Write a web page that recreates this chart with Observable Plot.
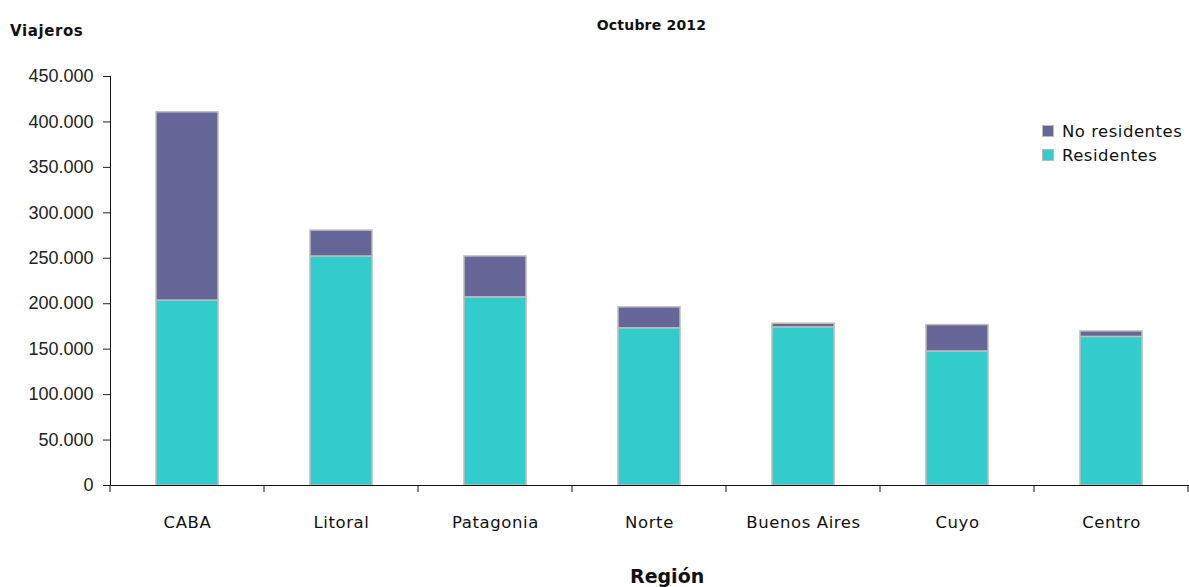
<!DOCTYPE html>
<html>
<head>
<meta charset="utf-8">
<script src="https://cdn.jsdelivr.net/npm/d3@7"></script>
<script src="https://cdn.jsdelivr.net/npm/@observablehq/plot@0.6"></script>
<style>
  body { margin: 0; background: #fff; }
  #wrap { position: relative; width: 1189px; height: 587px; overflow: hidden; }
  .t { position: absolute; font-family: "DejaVu Sans", sans-serif; color: #111; white-space: nowrap; }
  #legend { position: absolute; left: 1042px; top: 119px; font-family: "DejaVu Sans", sans-serif; font-size: 16.5px; color: #111; }
  #legend div { display: flex; align-items: center; height: 24px; letter-spacing: 0.5px; }
  #legend span.sw { display: inline-block; width: 10px; height: 10px; border: 1px solid #bbb; margin-right: 8px; }
  svg g[aria-label="x-axis tick label"] text { letter-spacing: 0.6px; }
</style>
</head>
<body>
<div id="wrap">
  <div id="chart"></div>
  <div class="t" style="left:10px; top:22px; font-size:15px; font-weight:bold; letter-spacing:0.6px;">Viajeros</div>
  <div class="t" style="left:0; width:1189px; top:17px; text-align:center; font-size:14px; font-weight:bold; padding-left:114px; box-sizing:border-box; letter-spacing:0.2px;">Octubre 2012</div>
  <div class="t" style="left:630px; top:565px; font-size:19px; font-weight:bold;">Región</div>
  <div id="legend"></div>
</div>
<script>
const regions = ["CABA", "Litoral", "Patagonia", "Norte", "Buenos Aires", "Cuyo", "Centro"];
const residentes = [203500, 252000, 207000, 173000, 174000, 147500, 163500];
const noResidentes = [207100, 28500, 45000, 23000, 4000, 29000, 6000];
const seriesNames = ["Residentes", "No residentes"];
const seriesColors = ["#33cccc", "#666699"];
const yTicks = [0, 50000, 100000, 150000, 200000, 250000, 300000, 350000, 400000, 450000];

const rows = [];
regions.forEach((r, i) => {
  rows.push({region: r, serie: "Residentes", value: residentes[i]});
  rows.push({region: r, serie: "No residentes", value: noResidentes[i]});
});

const fmt = d => d3.format(",")(d).replace(/,/g, ".");

const plot = Plot.plot({
  width: 1189,
  height: 587,
  marginLeft: 110,
  marginRight: 1,
  marginTop: 76,
  marginBottom: 102,
  style: {background: "transparent", overflow: "visible"},
  x: {domain: regions, paddingInner: 0.6, paddingOuter: 0.3, label: null},
  y: {domain: [0, 450000], label: null},
  color: {domain: seriesNames, range: seriesColors},
  marks: [
    Plot.barY(rows, {
      x: "region", y: "value", fill: "serie",
      stroke: "#bdbdbd", strokeWidth: 1.5,
      order: seriesNames
    }),
    Plot.axisY({ticks: yTicks, tickSize: 7, tickPadding: 10, tickFormat: fmt,
      fontSize: 18, fontFamily: "Liberation Sans, Arial, sans-serif", fill: "#222", stroke: "#222", label: null}),
    Plot.axisX({tickSize: 0, tickPadding: 31, fontSize: 16.5, fontFamily: "DejaVu Sans, sans-serif", fill: "#111", label: null}),
    Plot.frame({anchor: "left", stroke: "#111"}),
    Plot.frame({anchor: "bottom", stroke: "#111"})
  ]
});

document.getElementById("chart").appendChild(plot);

// category boundary ticks using the plot's x scale
const xs = plot.scale("x");
const ys = plot.scale("y");
const step = xs.step;
const y0 = ys.apply(0);
const bounds = regions.map(r => xs.apply(r) + xs.bandwidth / 2 - step / 2);
bounds.push(xs.apply(regions[regions.length - 1]) + xs.bandwidth / 2 + step / 2);
const g = d3.select(plot).append("g").attr("stroke", "#111");
bounds.forEach(b => {
  g.append("line").attr("x1", b).attr("x2", b).attr("y1", y0).attr("y2", y0 + 7);
});

// legend
const leg = document.getElementById("legend");
["No residentes", "Residentes"].forEach(n => {
  const d = document.createElement("div");
  const sw = document.createElement("span");
  sw.className = "sw";
  sw.style.background = seriesColors[seriesNames.indexOf(n)];
  d.appendChild(sw);
  d.appendChild(document.createTextNode(n));
  leg.appendChild(d);
});
</script>
</body>
</html>
